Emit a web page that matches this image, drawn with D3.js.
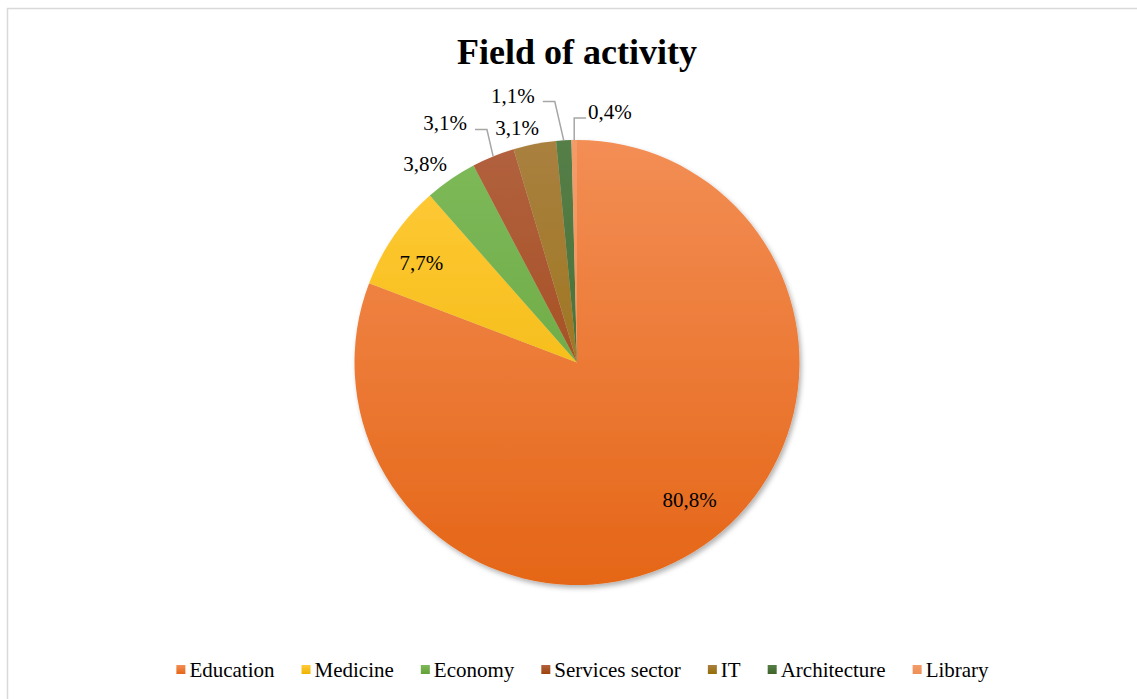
<!DOCTYPE html>
<html>
<head>
<meta charset="utf-8">
<script src="https://cdn.jsdelivr.net/npm/d3@7"></script>
<style>
  html, body { margin: 0; padding: 0; background: #ffffff; }
  svg { display: block; }
</style>
</head>
<body>
<svg id="chart" width="1137" height="699"></svg>
<script>
// Survey shares by field of activity (percent)
const categories = ["Education", "Medicine", "Economy", "Services sector", "IT", "Architecture", "Library"];
const shares = [80.8, 7.7, 3.8, 3.1, 3.1, 1.1, 0.4];
const shareLabels = ["80,8%", "7,7%", "3,8%", "3,1%", "3,1%", "1,1%", "0,4%"];

// Slice fills: lighter at the top of the pie, deeper toward the bottom
const fillTop = ["#F38E55", "#FFCB3A", "#7EBA5A", "#B2613F", "#A9803F", "#557F48", "#F39C69"];
const fillBottom = ["#E56617", "#EEB300", "#63A038", "#9C440C", "#956E06", "#3F6428", "#EE8F55"];

const SERIF = "'Liberation Serif', 'Times New Roman', Times, serif";

const W = 1137, H = 699;
const cx = 577, cy = 362.5, R = 222.5;

const svg = d3.select("#chart");
const defs = svg.append("defs");

// Frame around the chart area
svg.append("rect")
  .attr("x", 7.5).attr("y", 8.5)
  .attr("width", W + 10).attr("height", H + 10)
  .attr("fill", "none").attr("stroke", "#D9D9D9").attr("stroke-width", 1.5);

// Title
svg.append("text")
  .attr("x", cx).attr("y", 64)
  .attr("text-anchor", "middle")
  .attr("font-family", SERIF)
  .attr("font-size", 36).attr("font-weight", "bold")
  .text("Field of activity");

// Gradients, one per category, in the pie group's coordinate frame
categories.forEach((c, i) => {
  const g = defs.append("linearGradient")
    .attr("id", "grad" + i)
    .attr("gradientUnits", "userSpaceOnUse")
    .attr("x1", 0).attr("x2", 0)
    .attr("y1", -R).attr("y2", R);
  g.append("stop").attr("offset", "0%").attr("stop-color", fillTop[i]);
  g.append("stop").attr("offset", "100%").attr("stop-color", fillBottom[i]);
});

// Soft shadow under the pie
const shadow = defs.append("filter").attr("id", "pieShadow")
  .attr("x", "-10%").attr("y", "-10%").attr("width", "120%").attr("height", "120%");
shadow.append("feDropShadow")
  .attr("dx", 2).attr("dy", 3).attr("stdDeviation", 2.5)
  .attr("flood-color", "#000").attr("flood-opacity", 0.3);

const pie = d3.pie().sort(null).value(d => d.value);
const data = categories.map((c, i) => ({ name: c, value: shares[i], label: shareLabels[i], idx: i }));
const arcs = pie(data);
const arc = d3.arc().innerRadius(0).outerRadius(R);

const pieG = svg.append("g")
  .attr("transform", `translate(${cx},${cy})`)
  .attr("filter", "url(#pieShadow)");

pieG.selectAll("path")
  .data(arcs)
  .join("path")
  .attr("d", arc)
  .attr("fill", d => `url(#grad${d.data.idx})`);

// Label placement: polar angle (deg, clockwise from 12 o'clock) and distance from centre
const labelPlace = {
  "Education":       { angle: 140.7, dist: 178 },
  "Medicine":        { angle: -57.3, dist: 185 },
  "Economy":         { angle: -37.4, dist: 250 },
  "Services sector": { angle: -28.9, dist: 273, leader: true },
  "IT":              { angle: -14.3, dist: 242 },
  "Architecture":    { angle: -13.5, dist: 274.5, leader: true },
  "Library":         { angle: 7.5,   dist: 252.7, leader: true }
};

const polar = (deg, r) => {
  const a = deg * Math.PI / 180;
  return [cx + r * Math.sin(a), cy - r * Math.cos(a)];
};

const labelG = svg.append("g");
arcs.forEach(d => {
  const p = labelPlace[d.data.name];
  const [lx, ly] = polar(p.angle, p.dist);
  const t = labelG.append("text")
    .attr("x", lx).attr("y", ly + 7)
    .attr("text-anchor", "middle")
    .attr("font-family", SERIF)
    .attr("font-size", 21)
    .attr("fill", "#000")
    .text(d.data.label);

  if (p.leader) {
    const w = t.node().getComputedTextLength();
    const mid = (d.startAngle + d.endAngle) / 2;
    const ex = cx + R * Math.sin(mid), ey = cy - R * Math.cos(mid);
    const yLine = ly + 6;
    let sx, bx;
    if (lx < ex - w / 2) {
      sx = lx + w / 2 + 8;
      bx = Math.min(sx + 12, ex);
    } else {
      sx = lx - w / 2 - 2;
      bx = Math.max(sx - 12, ex);
    }
    labelG.append("path")
      .attr("d", d3.line()([[sx, yLine], [bx, yLine], [ex, ey]]))
      .attr("fill", "none")
      .attr("stroke", "#A6A6A6")
      .attr("stroke-width", 1.5);
  }
});

// Legend, centred under the pie
const legend = svg.append("g");
const legendY = 670;
const gap = 27;
let xPos = 0;
categories.forEach((c, i) => {
  const lg = defs.append("linearGradient")
    .attr("id", "legGrad" + i)
    .attr("x1", 0).attr("x2", 0).attr("y1", 0).attr("y2", 1);
  lg.append("stop").attr("offset", "0%").attr("stop-color", fillTop[i]);
  lg.append("stop").attr("offset", "100%").attr("stop-color", fillBottom[i]);

  const g = legend.append("g");
  g.append("rect")
    .attr("x", 0).attr("y", legendY - 5)
    .attr("width", 9).attr("height", 9)
    .attr("fill", `url(#legGrad${i})`);
  const t = g.append("text")
    .attr("x", 13).attr("y", legendY + 7)
    .attr("font-family", SERIF)
    .attr("font-size", 21)
    .attr("fill", "#000")
    .text(c);
  const w = 13 + t.node().getComputedTextLength();
  g.attr("transform", `translate(${xPos},0)`);
  xPos += w + gap;
});
const totalW = xPos - gap;
legend.attr("transform", `translate(${582.5 - totalW / 2},0)`);
</script>
</body>
</html>
